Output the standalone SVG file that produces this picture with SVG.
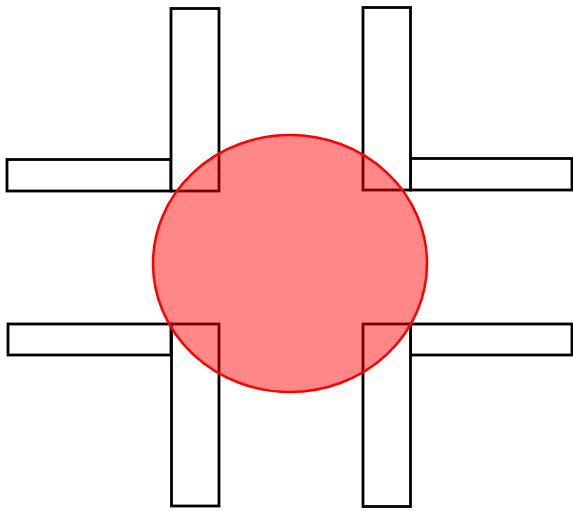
<svg xmlns="http://www.w3.org/2000/svg" width="573" height="511" viewBox="0 0 573 511">
<style>
.bar{fill:#fff;stroke:#000;stroke-width:2.8}
.blob{fill:#ff0000;fill-opacity:0.47;stroke:#ff0000;stroke-width:2.5}
</style>
<rect width="573" height="511" fill="#fff"/>
<g id="corner-top-left">
<rect class="bar" x="7" y="159.5" width="164" height="31.5"/>
<rect class="bar" x="171" y="8.5" width="48" height="182.5"/>
</g>
<g id="corner-top-right">
<rect class="bar" x="410.5" y="158.5" width="161.5" height="31.5"/>
<rect class="bar" x="363" y="7.5" width="47.5" height="182.5"/>
</g>
<g id="corner-bottom-left">
<rect class="bar" x="8" y="324" width="163" height="31"/>
<rect class="bar" x="171.5" y="324" width="47.5" height="182"/>
</g>
<g id="corner-bottom-right">
<rect class="bar" x="410.5" y="324" width="161.5" height="31"/>
<rect class="bar" x="363" y="324" width="47.5" height="182.5"/>
</g>
<g id="circle">
<ellipse class="blob" cx="290" cy="263.5" rx="137" ry="128.5"/>
</g>
</svg>
